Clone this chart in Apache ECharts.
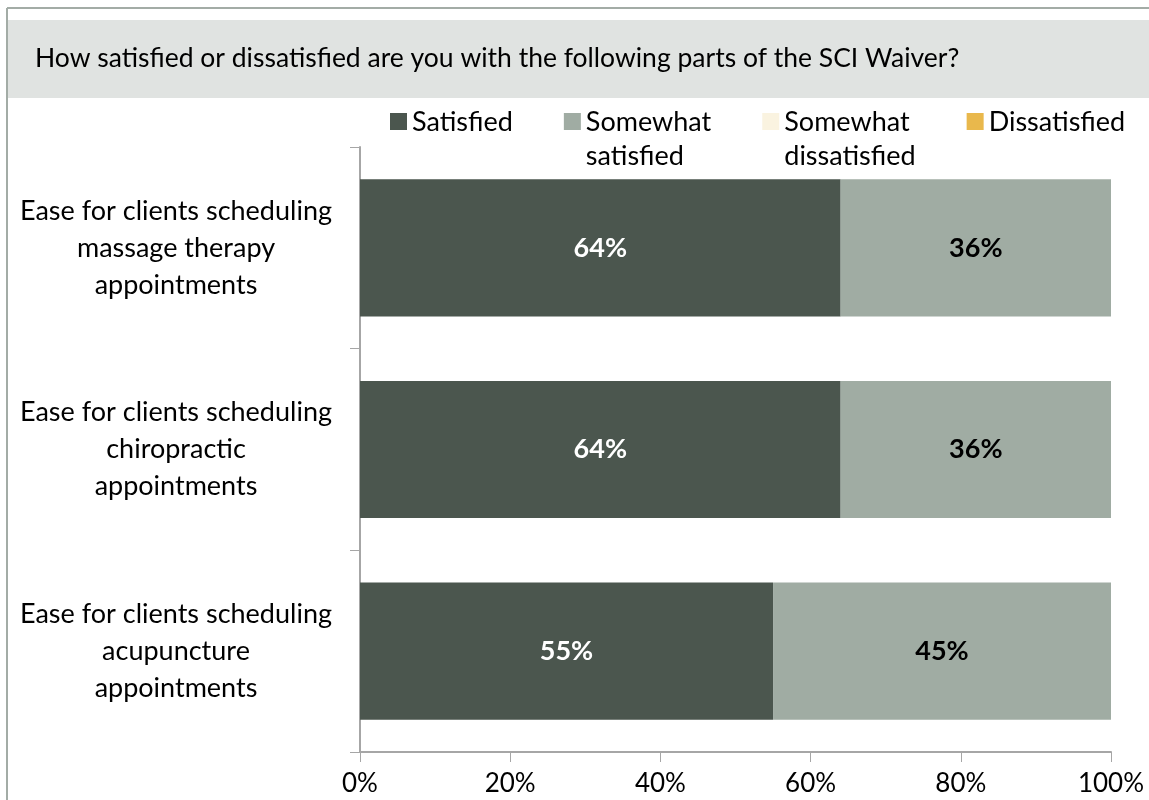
<!DOCTYPE html>
<html>
<head>
<meta charset="utf-8">
<script src="https://cdn.jsdelivr.net/npm/echarts@6/dist/echarts.min.js"></script>
<style>
  html, body { margin: 0; padding: 0; background: #fff; }
  #chart { width: 1149px; height: 800px; }
</style>
</head>
<body>
<div id="chart"></div>
<script>
// chart data
var categories = [
  'Ease for clients scheduling\nmassage therapy\nappointments',
  'Ease for clients scheduling\nchiropractic\nappointments',
  'Ease for clients scheduling\nacupuncture\nappointments'
]
var satisfied = [64, 64, 55]
var somewhatSatisfied = [36, 36, 45]
var somewhatDissatisfied = [0, 0, 0]
var dissatisfied = [0, 0, 0]
var xTicks = [0, 20, 40, 60, 80, 100]

var font = 'Lato'

function pctLabel(p) {
  return p.value > 0 ? p.value + '%' : ''
}

// square sitting on the first text line of a two-line legend item
var legendIcon = 'path://M0,0L17,0Z M0,8L17,8L17,25L0,25Z M0,68L17,68Z'

var chart = echarts.init(document.getElementById('chart'))

chart.setOption({
  animation: false,
  textStyle: { fontFamily: font },
  graphic: [
    { type: 'line', shape: { x1: 7, y1: 8, x2: 1149, y2: 8 }, style: { stroke: '#a3aca6', lineWidth: 2 } },
    { type: 'line', shape: { x1: 7, y1: 8, x2: 7, y2: 800 }, style: { stroke: '#a3aca6', lineWidth: 2 } },
    { type: 'rect', shape: { x: 8, y: 20, width: 1141, height: 78 }, style: { fill: '#e0e3e1' } },
    {
      type: 'text', left: 35, top: 45,
      style: { text: 'How satisfied or dissatisfied are you with the following parts of the SCI Waiver?', font: '26.5px Lato', fill: '#000' }
    }
  ],
  legend: {
    left: 390,
    top: 105,
    padding: 0,
    itemWidth: 17,
    itemHeight: 68,
    itemGap: 51,
    icon: legendIcon,
    formatter: function (name) {
      return name.indexOf('\n') > -1 ? name : name + '\n '
    },
    textStyle: { fontSize: 27, color: '#000', lineHeight: 34, fontFamily: font },
    data: ['Satisfied', 'Somewhat\nsatisfied', 'Somewhat\ndissatisfied', 'Dissatisfied']
  },
  grid: { left: 360, right: 38, top: 147, bottom: 48 },
  xAxis: {
    type: 'value',
    min: 0,
    max: 100,
    interval: 20,
    splitLine: { show: false },
    axisLine: { show: true, lineStyle: { color: '#a6a6a6', width: 2 } },
    axisTick: { show: true, length: 10, lineStyle: { color: '#a6a6a6' } },
    axisLabel: {
      margin: 19,
      fontSize: 26,
      color: '#000',
      formatter: function (v) { return xTicks.indexOf(v) > -1 ? v + '%' : '' }
    }
  },
  yAxis: {
    type: 'category',
    inverse: true,
    data: categories,
    axisLine: { show: true, lineStyle: { color: '#a6a6a6', width: 2 } },
    axisTick: { show: true, length: 10, lineStyle: { color: '#a6a6a6' } },
    axisLabel: {
      align: 'center',
      margin: 184,
      fontSize: 27,
      lineHeight: 37,
      color: '#000'
    }
  },
  series: [
    {
      name: 'Satisfied',
      type: 'bar',
      stack: 'total',
      barWidth: '68%',
      data: satisfied,
      itemStyle: { color: '#4b564e' },
      label: { show: true, position: 'inside', color: '#fff', fontWeight: 'bold', fontSize: 27, formatter: pctLabel }
    },
    {
      name: 'Somewhat\nsatisfied',
      type: 'bar',
      stack: 'total',
      data: somewhatSatisfied,
      itemStyle: { color: '#a0aca3' },
      label: { show: true, position: 'inside', color: '#000', fontWeight: 'bold', fontSize: 27, formatter: pctLabel }
    },
    {
      name: 'Somewhat\ndissatisfied',
      type: 'bar',
      stack: 'total',
      data: somewhatDissatisfied,
      itemStyle: { color: '#faf3e0' },
      label: { show: false }
    },
    {
      name: 'Dissatisfied',
      type: 'bar',
      stack: 'total',
      data: dissatisfied,
      itemStyle: { color: '#e9b84c' },
      label: { show: false }
    }
  ]
})
</script>
</body>
</html>
